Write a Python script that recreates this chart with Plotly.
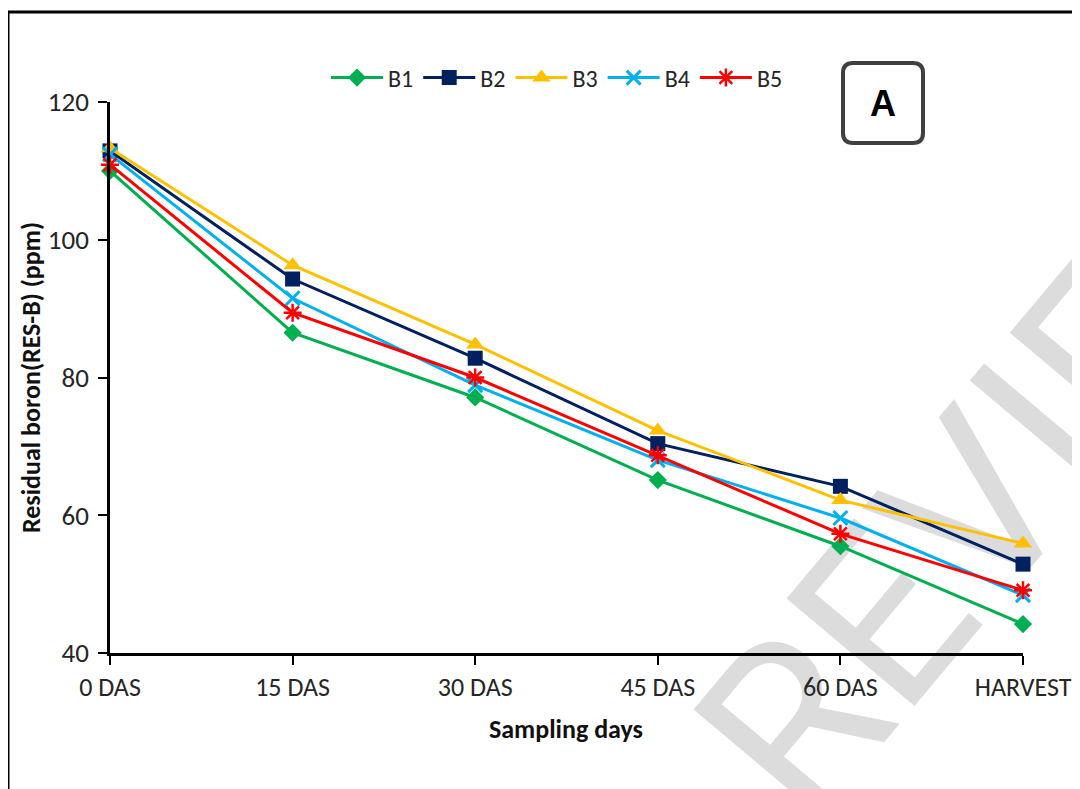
import plotly.graph_objects as go

categories = ["0 DAS", "15 DAS", "30 DAS", "45 DAS", "60 DAS", "HARVEST"]
B1 = [110.0, 86.5, 77.1, 65.1, 55.5, 44.2]
B2 = [112.9, 94.3, 82.8, 70.4, 64.2, 52.9]
B3 = [113.3, 96.3, 84.8, 72.3, 62.2, 55.9]
B4 = [112.4, 91.5, 78.9, 68.0, 59.6, 48.4]
B5 = [110.9, 89.4, 80.0, 68.7, 57.3, 49.1]
y_ticks = [40, 60, 80, 100, 120]

FONT = "Carlito, 'Liberation Sans Narrow', Lato, Roboto, sans-serif"

series = [
    ("B1", B1, "#00B050", dict(symbol="diamond", size=14)),
    ("B2", B2, "#002060", dict(symbol="square", size=15)),
    ("B3", B3, "#FFC000", dict(symbol="triangle-up", size=16)),
    ("B4", B4, "#00B0F0", dict(symbol="x-thin", size=14, line=dict(width=3, color="#00B0F0"))),
    ("B5", B5, "#FF0000", dict(symbol="asterisk", size=15, line=dict(width=2.5, color="#FF0000"))),
]

fig = go.Figure()
for name, vals, color, mk in series:
    fig.add_trace(go.Scatter(
        x=categories, y=vals, name=name, mode="lines+markers",
        line=dict(color=color, width=3),
        marker=dict(color=color, **mk),
        cliponaxis=False,
    ))

# page body has an 8px margin: figure coords = screen coords - 8
OFF = 8
W, H = 1072, 781
L, R = 110 - OFF, 1080 - 1023
T, B = 102 - OFF, 781 - (653 - OFF)
pw, ph = W - L - R, H - T - B

def px(xs):
    return (xs - OFF - L) / pw

def py(ys):
    return (H - B - (ys - OFF)) / ph

fig.update_layout(
    width=W, height=H,
    margin=dict(l=L, r=R, t=T, b=B, autoexpand=False),
    paper_bgcolor="white", plot_bgcolor="rgba(0,0,0,0)",
    font=dict(family=FONT, size=24, color="#262626"),
    showlegend=True,
    legend=dict(orientation="h", x=px(557), xanchor="center", y=py(78), yanchor="middle",
                font=dict(size=24, color="#262626"), itemwidth=52,
                bgcolor="rgba(0,0,0,0)", tracegroupgap=0),
    xaxis=dict(type="category", range=[0, 5], showline=True, linecolor="black", linewidth=2.5,
               ticks="outside", ticklen=9, tickwidth=2, tickcolor="black", showgrid=False,
               zeroline=False, tickfont=dict(size=26, color="#262626"), fixedrange=True),
    yaxis=dict(range=[40, 120], tickvals=y_ticks, showline=True, linecolor="black", linewidth=2.5,
               ticks="outside", ticklen=9, tickwidth=2, tickcolor="black", showgrid=False,
               zeroline=False, tickfont=dict(size=27, color="#262626"), ticklabelstandoff=4),
)

# axis titles
fig.add_annotation(text="<b>Sampling days</b>", x=px(566), y=py(729), xref="paper", yref="paper",
                   showarrow=False, font=dict(size=26, color="#111"), xanchor="center", yanchor="middle")
fig.add_annotation(text="<b>Residual boron(RES-B) (ppm)</b>", x=px(31), y=py(378), xref="paper", yref="paper",
                   showarrow=False, textangle=-90, font=dict(size=26, color="#111"),
                   xanchor="center", yanchor="middle")

# outer frame
fig.add_shape(type="rect", xref="paper", yref="paper", x0=px(8), x1=1.3, y0=-0.6, y1=py(12),
              line=dict(color="black", width=3), fillcolor="rgba(0,0,0,0)", layer="above")

# "A" panel label box
r = 40
c = 10
path = (f"M {-r+c},{-r} L {r-c},{-r} Q {r},{-r} {r},{-r+c} L {r},{r-c} Q {r},{r} {r-c},{r} "
        f"L {-r+c},{r} Q {-r},{r} {-r},{r-c} L {-r},{-r+c} Q {-r},{-r} {-r+c},{-r} Z")
fig.add_shape(type="path", xref="paper", yref="paper", xsizemode="pixel", ysizemode="pixel",
              xanchor=px(883), yanchor=py(103), path=path,
              line=dict(color="#404040", width=4), fillcolor="white", layer="above")
fig.add_annotation(text="<b>A</b>", x=px(883), y=py(103), xref="paper", yref="paper",
                   showarrow=False, font=dict(family="Liberation Sans, Arial, sans-serif", size=36, color="black"),
                   xanchor="center", yanchor="middle")

# watermark
fig.add_shape(type="line", xref="paper", yref="paper",
              x0=px(917), y0=py(770), x1=px(1303), y1=py(310),
              line=dict(color="rgba(0,0,0,0)", width=0), layer="below",
              label=dict(text="REVIEW", textposition="middle",
                         font=dict(family="Roboto, 'DejaVu Sans', sans-serif", size=235, color="#dcdcdc",
                                   weight=400)))

fig.write_html("out.html")
